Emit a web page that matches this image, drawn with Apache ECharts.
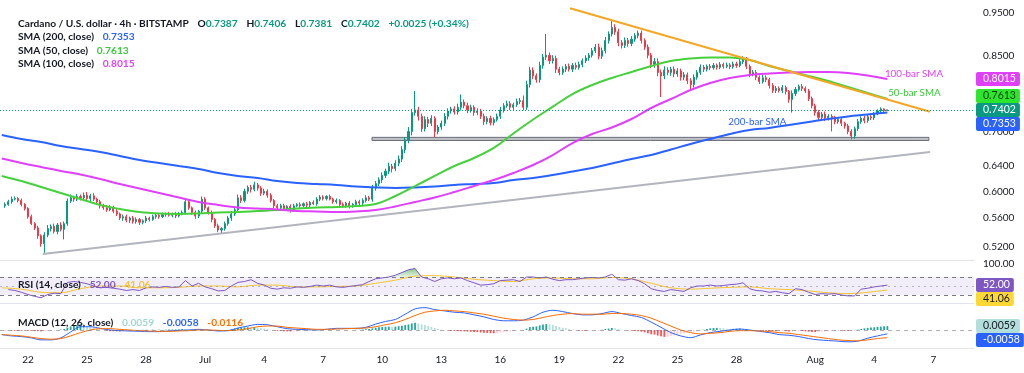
<!DOCTYPE html>
<html>
<head>
<meta charset="utf-8">
<script src="https://cdn.jsdelivr.net/npm/echarts@6.0.0/dist/echarts.min.js"></script>
<style>
html,body{margin:0;padding:0;background:#ffffff;}
#chart{width:1024px;height:373px;}
</style>
</head>
<body>
<div id="chart"></div>
<script>
// ================= DATA =================
const symbolTitle = 'Cardano / U.S. dollar · 4h · BITSTAMP';
const lastBar = {open: '0.7387', high: '0.7406', low: '0.7381', close: '0.7402', change: '+0.0025 (+0.34%)'};

// 4h candles, first one opens 2025-06-20 20:00 UTC; open of each bar = previous close
const firstCandleTime = '2025-06-20T20:00:00Z';
const firstOpen = 0.578;
const close = [
 0.580,
 0.584,0.588,0.589,0.586,0.580,0.574,
 0.562,0.552,0.546,0.535,0.524,0.536,
 0.545,0.548,0.541,0.550,0.544,0.552,
 0.585,0.590,0.588,0.592,0.590,0.594,
 0.589,0.593,0.588,0.584,0.578,0.575,
 0.572,0.576,0.570,0.566,0.560,0.562,
 0.557,0.560,0.555,0.558,0.554,0.556,
 0.560,0.558,0.562,0.564,0.562,0.565,
 0.566,0.564,0.566,0.563,0.567,0.568,
 0.584,0.575,0.568,0.563,0.570,0.588,
 0.575,0.568,0.558,0.549,0.543,0.545,
 0.552,0.560,0.566,0.572,0.590,0.586,
 0.600,0.606,0.603,0.610,0.605,0.597,
 0.600,0.594,0.586,0.578,0.575,0.578,
 0.574,0.577,0.572,0.578,0.580,0.578,
 0.581,0.579,0.583,0.581,0.588,0.591,
 0.589,0.592,0.588,0.584,0.586,0.580,
 0.578,0.582,0.577,0.580,0.584,0.582,
 0.586,0.590,0.588,0.605,0.612,0.618,
 0.625,0.632,0.640,0.636,0.645,0.652,
 0.668,0.685,0.700,0.735,0.740,0.728,
 0.705,0.722,0.715,0.724,0.700,0.708,
 0.715,0.728,0.738,0.742,0.736,0.745,
 0.755,0.748,0.740,0.745,0.735,0.738,
 0.728,0.718,0.724,0.716,0.722,0.728,
 0.740,0.748,0.752,0.745,0.750,0.756,
 0.758,0.745,0.790,0.820,0.808,0.800,
 0.830,0.848,0.852,0.840,0.845,0.822,
 0.815,0.822,0.828,0.822,0.830,0.826,
 0.832,0.840,0.846,0.852,0.862,0.870,
 0.850,0.862,0.885,0.900,0.915,0.905,
 0.880,0.874,0.885,0.878,0.888,0.896,
 0.902,0.885,0.870,0.852,0.832,0.838,
 0.815,0.808,0.820,0.815,0.822,0.812,
 0.818,0.805,0.810,0.798,0.790,0.805,
 0.815,0.826,0.822,0.828,0.825,0.830,
 0.826,0.832,0.828,0.831,0.827,0.833,
 0.830,0.838,0.843,0.828,0.812,0.815,
 0.805,0.796,0.804,0.800,0.788,0.778,
 0.782,0.778,0.784,0.776,0.760,0.772,
 0.780,0.786,0.782,0.777,0.762,0.748,
 0.735,0.726,0.732,0.725,0.728,0.724,
 0.718,0.722,0.715,0.710,0.700,0.692,
 0.705,0.718,0.724,0.720,0.727,0.725,
 0.733,0.738,0.742,0.7387,0.7402
];
// wick lengths beyond the body, in thousandths of a dollar
const upperWickE3 = [
 3,
 3,4,3,2,3,2, 2,3,2,3,2,4, 5,3,4,3,4,3, 4,5,3,4,3,4, 5,3,4,2,3,3,
 4,3,2,3,2,3, 3,2,3,3,2,2, 3,2,3,2,3,3, 2,3,2,3,2,3, 4,3,2,3,2,4,
 3,2,3,2,3,2, 3,3,4,3,5,4, 4,3,4,5,3,3, 4,3,3,2,3,3, 3,2,3,3,2,3,
 2,3,2,3,3,3, 3,2,3,2,3,2, 3,2,3,2,3,3, 3,4,3,5,4,4, 5,4,6,4,5,6,
 6,5,8,7,37,6, 5,6,5,6,4,4, 5,6,5,4,5,7, 15,5,6,5,4,5, 4,5,4,5,4,5,
 6,5,6,5,4,6, 5,10,8,7,6,5, 8,7,48,6,7,6, 5,6,5,6,5,6, 6,5,6,5,6,7,
 8,7,8,6,18,8, 7,6,7,6,7,6, 6,6,5,6,5,8, 7,6,8,6,5,6, 6,5,6,5,5,6,
 5,6,5,4,5,5, 4,5,4,5,4,5, 5,6,7,5,4,5, 5,4,6,5,4,5, 5,4,5,4,3,6,
 5,4,5,4,4,4, 4,5,4,5,4,4, 5,4,4,3,4,4, 4,5,4,5,4,3,
 3,3,3,1,0.4
];
const lowerWickE3 = [
 3,
 2,3,2,3,3,3, 3,2,3,4,4,12, 3,4,3,4,3,14, 3,3,4,3,4,3, 3,4,3,3,4,3,
 3,2,3,3,3,4, 3,4,3,3,4,3, 3,3,2,3,3,2, 3,2,3,3,2,3, 3,3,3,4,3,3,
 3,3,4,3,3,5, 3,3,4,3,3,4, 3,4,5,3,4,4, 3,4,3,4,3,3, 3,3,4,3,2,3,
 2,3,3,2,3,3, 3,3,2,3,3,3, 3,3,3,2,3,3, 3,3,3,4,4,4, 5,4,5,6,4,5,
 5,6,6,7,6,8, 6,5,7,5,10,5, 5,5,6,5,5,5, 6,5,6,5,6,5, 5,6,5,5,5,4,
 5,5,4,5,5,4, 5,6,5,6,7,6, 6,7,6,7,6,8, 6,5,6,5,6,5, 5,6,5,6,5,5,
 7,6,6,7,6,7, 8,7,6,7,6,6, 6,7,6,7,8,7, 8,43,7,6,7,7, 6,7,6,7,11,6,
 5,5,6,5,5,4, 5,4,5,4,5,4, 5,4,5,6,7,5, 6,5,4,5,6,5, 5,4,5,6,6,25,
 5,4,5,4,5,5, 6,5,5,6,5,24, 5,4,5,5,5,6, 5,4,4,5,4,4,
 4,3,3,3,0.6
];

// moving averages, one sample a day starting 2025-06-20 16:00 UTC
const smaStart = '2025-06-20T16:00:00Z';
const sma200 = [0.6937,0.6867,0.6813,0.6743,0.6691,0.6640,0.6572,0.6504,0.6454,0.6404,0.6355,0.6290,0.6242,0.6209,0.6161,0.6130,0.6114,0.6098,0.6075,0.6059,0.6051,0.6059,0.6075,0.6098,0.6114,0.6130,0.6177,0.6209,0.6258,0.6314,0.6371,0.6446,0.6521,0.6588,0.6682,0.6778,0.6867,0.6955,0.7027,0.7064,0.7118,0.7173,0.7229,0.7276,0.7313,0.7353];
const sma50 = [0.6242,0.6161,0.6067,0.5974,0.5882,0.5792,0.5732,0.5688,0.5666,0.5659,0.5666,0.5681,0.5688,0.5703,0.5718,0.5740,0.5755,0.5762,0.5777,0.5807,0.5928,0.6082,0.6242,0.6404,0.6538,0.6709,0.6964,0.7220,0.7462,0.7710,0.7891,0.8035,0.8160,0.8287,0.8394,0.8449,0.8471,0.8471,0.8416,0.8287,0.8181,0.8076,0.7973,0.7850,0.7730,0.7613];
const sma100 = [0.6529,0.6454,0.6388,0.6322,0.6266,0.6193,0.6114,0.6044,0.5974,0.5905,0.5837,0.5792,0.5755,0.5740,0.5725,0.5703,0.5696,0.5688,0.5696,0.5718,0.5770,0.5837,0.5905,0.5989,0.6082,0.6177,0.6290,0.6421,0.6588,0.6795,0.6955,0.7073,0.7229,0.7437,0.7611,0.7790,0.7932,0.8035,0.8097,0.8128,0.8149,0.8160,0.8160,0.8139,0.8087,0.8015];

// RSI(14), one sample every 8h starting 2025-06-21 00:00 UTC
const rsiStart = '2025-06-21T00:00:00Z';
const rsi = [
 42,40,36,31,27,24,31,34,33,58,
 60,58,55,50,46,47,45,43,40,42,
 40,46,48,47,49,47,48,62,50,56,
 48,44,39,40,50,58,60,64,56,52,
 45,43,46,45,48,47,49,52,50,52,
 48,47,49,51,53,60,66,68,70,74,
 80,86,89,70,66,60,66,68,66,68,
 62,57,52,53,55,62,63,64,60,70,
 70,68,70,65,62,64,64,66,68,69,
 68,70,76,64,63,66,62,55,44,40,
 38,42,40,38,46,50,50,52,50,51,
 53,54,57,44,40,39,36,38,35,33,
 44,42,36,31,33,32,33,30,28,28,
 43,45,48,50,52
];
// RSI-based MA, daily samples from smaStart
const rsiMA = [46,43,36,35,44,50,50,46,46,47,50,50,48,52,52,48,48,49,50,56,63,72,73,70,65,62,60,66,68,66,66,69,66,56,46,43,45,47,48,44,42,39,35,33,36,41.06];
const rsiOverboughtRun = [58, 63]; // sample index range where RSI is above 70

// MACD(12,26), one sample every 12h from smaStart
const macd = [
 -0.007,-0.009,-0.010,-0.012,-0.015,-0.015,-0.012,-0.003,0.005,0.005,
 0.0025,0.000,-0.001,-0.0015,-0.002,-0.0025,-0.0025,-0.0015,-0.0005,0.000,
 0.001,0.000,-0.0015,-0.001,0.003,0.006,0.0085,0.008,0.005,0.002,
 0.001,0.0005,0.000,0.001,0.0025,0.0025,0.0025,0.004,0.009,0.013,
 0.016,0.024,0.032,0.034,0.031,0.029,0.027,0.026,0.023,0.020,
 0.016,0.014,0.014,0.015,0.020,0.027,0.030,0.028,0.025,0.023,
 0.023,0.025,0.028,0.025,0.022,0.019,0.012,0.004,-0.004,-0.009,
 -0.0117,-0.0075,-0.004,-0.002,0.000,0.0015,0.000,-0.002,-0.004,-0.007,
 -0.008,-0.010,-0.013,-0.015,-0.016,-0.017,-0.018,-0.017,-0.0125,-0.009,
 -0.0058
];
const macdSignal = [
 -0.007,-0.008,-0.009,-0.011,-0.013,-0.014,-0.013,-0.009,-0.004,0.000,
 0.002,0.002,0.001,0.000,-0.001,-0.0015,-0.002,-0.002,-0.0015,-0.001,
 0.000,0.000,-0.0005,-0.001,0.000,0.002,0.005,0.006,0.006,0.004,
 0.003,0.002,0.001,0.001,0.0015,0.002,0.0025,0.003,0.005,0.008,
 0.011,0.016,0.022,0.027,0.029,0.030,0.029,0.028,0.026,0.024,
 0.021,0.018,0.016,0.015,0.016,0.019,0.022,0.024,0.025,0.024,
 0.024,0.024,0.025,0.025,0.024,0.022,0.018,0.012,0.006,0.000,
 -0.004,-0.006,-0.005,-0.004,-0.002,-0.001,-0.001,-0.0015,-0.0025,-0.004,
 -0.005,-0.007,-0.009,-0.011,-0.013,-0.015,-0.016,-0.0165,-0.015,-0.013,
 -0.0116
];
// MACD histogram per 4h candle, in units of 0.0001
const macdHistE4 = [
 -3,
 -6,-10,-10,-10,-12,-10, -10,-12,-15,-18,-20,-15, -12,-10,-5,0,8,15, 35,55,65,75,85,80, 65,50,35,20,8,2,
 -10,-18,-20,-20,-22,-18, -16,-14,-10,-6,2,4, 5,4,6,3,5,4, 5,6,8,9,10,14, 12,9,6,8,12,6,
 0,-5,-10,-14,-16,-12, -6,0,10,20,30,35, 40,42,38,40,35,28, 22,15,5,-5,-12,-16, -20,-20,-22,-20,-18,-16,
 -15,-13,-10,-8,-4,0, 2,5,8,10,8,6, 5,4,2,0,2,4, 8,12,15,25,35,42, 46,50,52,50,52,58,
 66,75,85,100,110,100, 85,75,60,45,30,15, 5,-2,-8,-12,-16,-18, -18,-20,-24,-26,-30,-32, -38,-42,-45,-48,-50,-45,
 -40,-35,-28,-22,-18,-10, -5,-2,20,45,50,55, 70,85,90,85,75,60, 45,35,25,15,5,-2, -8,-10,-12,-10,-6,-2,
 -4,5,15,22,30,25, 12,5,0,-5,-10,-15, -18,-25,-35,-50,-65,-70, -85,-95,-105,-100,-90,-80, -70,-60,-50,-40,-30,-22,
 -12,-5,5,15,25,30, 32,30,25,18,15,18, 20,22,20,10,-2,-5, -8,-10,-8,-12,-15,-18, -20,-18,-15,-18,-22,-20,
 -15,-12,-15,-20,-25,-30, -32,-30,-25,-22,-20,-18, -15,-12,-10,-12,-15,-12, -5,5,15,25,32,38,
 42,48,52,56,59
];

// drawings on the price pane
const supportTrend = [['2025-06-22T18:00:00Z', 0.5105], ['2025-08-06T20:00:00Z', 0.664]];
const resistanceTrend = [['2025-07-19T13:00:00Z', 0.9616], ['2025-08-06T20:00:00Z', 0.7366]];
const supportZone = {from: '2025-07-09T11:30:00Z', to: '2025-08-06T18:40:00Z', top: 0.6895, bottom: 0.6840};
const lineLabels = [
  {text: '100-bar SMA', time: '2025-08-04T13:00:00Z', price: 0.8118, color: '#E040FB'},
  {text: '50-bar SMA', time: '2025-08-04T17:00:00Z', price: 0.7730, color: '#3CC83C'},
  {text: '200-bar SMA', time: '2025-07-27T14:00:00Z', price: 0.7173, color: '#2962FF'}
];

// axis ticks
const priceTicks = [0.52, 0.56, 0.60, 0.64, 0.70, 0.85, 0.95];
const rsiTicks = [100];
const dateTicks = ['2025-06-22','2025-06-25','2025-06-28','2025-07-01','2025-07-04','2025-07-07','2025-07-10','2025-07-13','2025-07-16','2025-07-19','2025-07-22','2025-07-25','2025-07-28','2025-08-01','2025-08-04','2025-08-07'];
const monthNames = ['Jan','Feb','Mar','Apr','May','Jun','Jul','Aug','Sep','Oct','Nov','Dec'];

// ================= BUILD =================
if (close.length !== 270 || upperWickE3.length !== 270 || lowerWickE3.length !== 270 || macdHistE4.length !== 270 ||
    sma200.length !== 46 || sma50.length !== 46 || sma100.length !== 46 || rsiMA.length !== 46 ||
    rsi.length !== 135 || macd.length !== 91 || macdSignal.length !== 91) {
  throw new Error('length mismatch');
}
const HOUR = 3600e3, DAY = 24 * HOUR;
const T = s => Date.parse(s);
const t0 = T(firstCandleTime);
const candleData = close.map((c, i) => {
  const o = i ? close[i - 1] : firstOpen;
  return [t0 + i * 4 * HOUR, o, c, +(Math.min(o, c) - lowerWickE3[i] / 1000).toFixed(4), +(Math.max(o, c) + upperWickE3[i] / 1000).toFixed(4)];
});
const series = (arr, start, stepH) => arr.map((v, i) => [T(start) + i * stepH * HOUR, v]);
const histData = macdHistE4.map((v, i) => {
  const prev = i ? macdHistE4[i - 1] : v;
  let col;
  if (v >= 0) col = v >= prev ? '#26A69A' : '#B2DFDB';
  else col = v <= prev ? '#FF5252' : '#FFCDD2';
  return {value: [t0 + i * 4 * HOUR, v / 10000], itemStyle: {color: col}};
});
const rsiData = series(rsi, rsiStart, 8);
const obData = rsiData.slice(rsiOverboughtRun[0], rsiOverboughtRun[1] + 1);

// layout: the time scale spans the plot width 0..974 px (Jun 22 at 28 px, 19.68 px per day)
const T22 = T('2025-06-22');
const xMin = T22 - (28 / 19.68) * DAY;
const xMax = T22 + (946 / 19.68) * DAY;
const FONT = 'Lato';
const TXT = '#131722';
const HF = 10.2; // header font size

const xBase = (gi, labels) => ({
  type: 'value', gridIndex: gi, min: xMin, max: xMax, scale: true,
  splitLine: {show: false}, axisTick: {show: false},
  axisLine: {show: true, onZero: false, lineStyle: {color: '#E0E3EB', width: 1}},
  axisLabel: labels ? {
    show: true, customValues: dateTicks.map(T), color: TXT, fontSize: 10, fontFamily: FONT, margin: 7, hideOverlap: false,
    formatter: v => { const d = new Date(v); return d.getUTCDate() === 1 ? monthNames[d.getUTCMonth()] : String(d.getUTCDate()); }
  } : {show: false}
});

const lastRsi = rsi[rsi.length - 1], lastRsiMA = rsiMA[rsiMA.length - 1];
const lastHist = macdHistE4[macdHistE4.length - 1] / 10000, lastMacd = macd[macd.length - 1], lastSig = macdSignal[macdSignal.length - 1];
const lastClose = close[close.length - 1];

const rt = (size, color, extra) => Object.assign({color: color, fontSize: size, fontFamily: FONT}, extra || {});
const option = {
  animation: false,
  backgroundColor: '#ffffff',
  textStyle: {fontFamily: FONT},
  title: [
    {left: 13, top: 10, text: '{a|' + symbolTitle + '}  {a|O}{v|' + lastBar.open + '}  {a|H}{v|' + lastBar.high + '}  {a|L}{v|' + lastBar.low + '}  {a|C}{v|' + lastBar.close + '}  {v|' + lastBar.change + '}',
      textStyle: {rich: {a: rt(HF, TXT), v: rt(HF, '#089981')}}},
    {left: 13, top: 23, text: '{a|SMA (200, close)}  {v|' + sma200[sma200.length - 1].toFixed(4) + '}', textStyle: {rich: {a: rt(HF, TXT), v: rt(HF, '#2962FF')}}},
    {left: 13, top: 37, text: '{a|SMA (50, close)}  {v|' + sma50[sma50.length - 1].toFixed(4) + '}', textStyle: {rich: {a: rt(HF, TXT), v: rt(HF, '#3CC83C')}}},
    {left: 13, top: 50, text: '{a|SMA (100, close)}  {v|' + sma100[sma100.length - 1].toFixed(4) + '}', textStyle: {rich: {a: rt(HF, TXT), v: rt(HF, '#E040FB')}}},
    {left: 13, top: 271, text: '{a|RSI (14, close)}  {p|' + lastRsi.toFixed(2) + '}  {y|' + lastRsiMA.toFixed(2) + '}',
      textStyle: {rich: {a: rt(HF, TXT), p: rt(HF, '#7E57C2'), y: rt(HF, '#F4C430')}}},
    {left: 13, top: 309, text: '{a|MACD (12, 26, close)}  {h|' + lastHist.toFixed(4) + '}  {m|' + lastMacd.toFixed(4) + '}  {s|' + lastSig.toFixed(4) + '}',
      textStyle: {rich: {a: rt(HF, TXT), h: rt(HF, '#9ED8D0'), m: rt(HF, '#2962FF'), s: rt(HF, '#FF6D00')}}}
  ],
  grid: [
    {left: 0, right: 50, top: 3, height: 257},
    {left: 0, right: 50, top: 261, height: 42},
    {left: 0, right: 50, top: 303, height: 45}
  ],
  xAxis: [xBase(0, false), xBase(1, false), xBase(2, true)],
  yAxis: [
    {type: 'log', logBase: 10, gridIndex: 0, position: 'right', min: 0.50262, max: 0.97481,
      splitLine: {show: false}, axisLine: {show: false}, axisTick: {show: false},
      axisLabel: {customValues: priceTicks, formatter: v => Number(v).toFixed(4), color: TXT, fontSize: 10, fontFamily: FONT, margin: 9}},
    {type: 'value', gridIndex: 1, position: 'right', min: 12.22, max: 105.56,
      splitLine: {show: false}, axisLine: {show: false}, axisTick: {show: false},
      axisLabel: {customValues: rsiTicks, formatter: v => Number(v).toFixed(2), color: TXT, fontSize: 10, fontFamily: FONT, margin: 9}},
    {type: 'value', gridIndex: 2, position: 'right', min: -0.02736, max: 0.04104,
      splitLine: {show: false}, axisLine: {show: false}, axisTick: {show: false}, axisLabel: {show: false}}
  ],
  series: [
    {type: 'candlestick', name: 'ADAUSD', xAxisIndex: 0, yAxisIndex: 0, data: candleData, encode: {x: 0, y: [1, 2, 3, 4]},
      barWidth: 1.6, z: 2,
      itemStyle: {color: '#089981', color0: '#F23645', borderColor: '#089981', borderColor0: '#F23645', borderWidth: 1},
      markLine: {silent: true, symbol: ['none', 'none'], label: {show: false},
        lineStyle: {type: [1, 2], color: '#089981', width: 1}, data: [{yAxis: lastClose}]},
      markArea: {silent: true, itemStyle: {color: 'rgba(170,172,180,0.75)', borderColor: '#6A6D78', borderWidth: 1},
        data: [[{xAxis: T(supportZone.from), yAxis: supportZone.top}, {xAxis: T(supportZone.to), yAxis: supportZone.bottom}]]}
    },
    {type: 'line', name: 'SMA200', xAxisIndex: 0, yAxisIndex: 0, data: series(sma200, smaStart, 24), showSymbol: false, smooth: 0.4,
      lineStyle: {color: '#2962FF', width: 2}, z: 3},
    {type: 'line', name: 'SMA50', xAxisIndex: 0, yAxisIndex: 0, data: series(sma50, smaStart, 24), showSymbol: false, smooth: 0.4,
      lineStyle: {color: '#44D13B', width: 2}, z: 3},
    {type: 'line', name: 'SMA100', xAxisIndex: 0, yAxisIndex: 0, data: series(sma100, smaStart, 24), showSymbol: false, smooth: 0.4,
      lineStyle: {color: '#E040FB', width: 2}, z: 3},
    {type: 'line', name: 'support', xAxisIndex: 0, yAxisIndex: 0, data: supportTrend.map(p => [T(p[0]), p[1]]), showSymbol: false,
      lineStyle: {color: '#B2B5BE', width: 2}, z: 4},
    {type: 'line', name: 'resistance', xAxisIndex: 0, yAxisIndex: 0, data: resistanceTrend.map(p => [T(p[0]), p[1]]), showSymbol: false,
      lineStyle: {color: '#F5A623', width: 2}, z: 4,
      markPoint: {silent: true, symbol: 'circle', symbolSize: 0,
        data: lineLabels.map(l => ({coord: [T(l.time), l.price],
          label: {show: true, formatter: l.text, position: 'right', distance: 0, color: l.color, fontSize: 9.8, fontFamily: FONT}}))}
    },
    {type: 'line', name: 'RSI', xAxisIndex: 1, yAxisIndex: 1, data: rsiData, showSymbol: false,
      lineStyle: {color: '#7E57C2', width: 1}, z: 3,
      markArea: {silent: true, itemStyle: {color: 'rgba(126,87,194,0.1)'}, data: [[{yAxis: 30}, {yAxis: 70}]]},
      markLine: {silent: true, symbol: ['none', 'none'], label: {show: false},
        data: [
          {yAxis: 70, lineStyle: {type: [4, 4], color: '#787B86', width: 1}},
          {yAxis: 50, lineStyle: {type: [2, 4], color: 'rgba(120,123,134,0.5)', width: 1}},
          {yAxis: 30, lineStyle: {type: [4, 4], color: '#787B86', width: 1}}
        ]}
    },
    {type: 'line', name: 'RSI MA', xAxisIndex: 1, yAxisIndex: 1, data: series(rsiMA, smaStart, 24), showSymbol: false, smooth: 0.3,
      lineStyle: {color: '#F4C430', width: 1}, z: 2},
    {type: 'line', name: 'RSI OB', xAxisIndex: 1, yAxisIndex: 1, data: obData, showSymbol: false,
      lineStyle: {width: 0}, z: 1,
      areaStyle: {origin: 70, color: new echarts.graphic.LinearGradient(0, 0, 0, 1, [{offset: 0, color: 'rgba(56,160,70,0.9)'}, {offset: 1, color: 'rgba(76,175,80,0.2)'}])}},
    {type: 'bar', name: 'Histogram', xAxisIndex: 2, yAxisIndex: 2, data: histData, barWidth: 1.8, z: 2},
    {type: 'line', name: 'MACD', xAxisIndex: 2, yAxisIndex: 2, data: series(macd, smaStart, 12), showSymbol: false, smooth: 0.3,
      lineStyle: {color: '#2962FF', width: 1}, z: 3,
      markLine: {silent: true, symbol: ['none', 'none'], label: {show: false},
        data: [{yAxis: 0, lineStyle: {type: [4, 4], color: 'rgba(120,123,134,0.6)', width: 1}}]}},
    {type: 'line', name: 'Signal', xAxisIndex: 2, yAxisIndex: 2, data: series(macdSignal, smaStart, 12), showSymbol: false, smooth: 0.3,
      lineStyle: {color: '#FF6D00', width: 1}, z: 3}
  ]
};

const chart = echarts.init(document.getElementById('chart'), null, {renderer: 'canvas', width: 1024, height: 373});
chart.setOption(option);

// ---- value tags on the price scale, stacked so they do not overlap ----
const TAG_H = 14;
const plotRight = 1024 - 50;
function stack(tags) {
  tags.forEach(t => { t.y = chart.convertToPixel({yAxisIndex: t.axis}, t.value); });
  tags.sort((a, b) => a.y - b.y);
  const f = tags.findIndex(t => t.fixed);
  for (let i = f - 1; i >= 0; i--) if (tags[i].y > tags[i + 1].y - TAG_H) tags[i].y = tags[i + 1].y - TAG_H;
  for (let i = f + 1; i < tags.length; i++) if (tags[i].y < tags[i - 1].y + TAG_H) tags[i].y = tags[i - 1].y + TAG_H;
  return tags;
}
const tagGroups = [
  stack([
    {axis: 0, value: sma100[sma100.length - 1], text: sma100[sma100.length - 1].toFixed(4), bg: '#E040FB', fg: '#ffffff'},
    {axis: 0, value: sma50[sma50.length - 1], text: sma50[sma50.length - 1].toFixed(4), bg: '#2EE52E', fg: '#0B3D0B'},
    {axis: 0, value: lastClose, text: lastClose.toFixed(4), bg: '#089981', fg: '#ffffff', fixed: true},
    {axis: 0, value: sma200[sma200.length - 1], text: sma200[sma200.length - 1].toFixed(4), bg: '#2962FF', fg: '#ffffff'}
  ]),
  stack([
    {axis: 1, value: lastRsi, text: lastRsi.toFixed(2), bg: '#7E57C2', fg: '#ffffff', fixed: true},
    {axis: 1, value: lastRsiMA, text: lastRsiMA.toFixed(2), bg: '#FDD835', fg: '#131722'}
  ]),
  stack([
    {axis: 2, value: lastHist, text: lastHist.toFixed(4), bg: '#B2DFDB', fg: '#131722', fixed: true},
    {axis: 2, value: lastMacd, text: lastMacd.toFixed(4), bg: '#2962FF', fg: '#ffffff'}
  ])
];
const graphics = [];
tagGroups.flat().forEach((t, i) => {
  graphics.push({
    type: 'text', id: 'tag' + i, x: plotRight + 2, y: Math.round(t.y), z: 100,
    style: {text: t.text, fill: t.fg, backgroundColor: t.bg, padding: [2, 4, 1, 7], borderRadius: 2,
      font: '10.5px ' + FONT, align: 'left', verticalAlign: 'middle', textAlign: 'left', textVerticalAlign: 'middle'}
  });
});
chart.setOption({graphic: graphics});
</script>
</body>
</html>
